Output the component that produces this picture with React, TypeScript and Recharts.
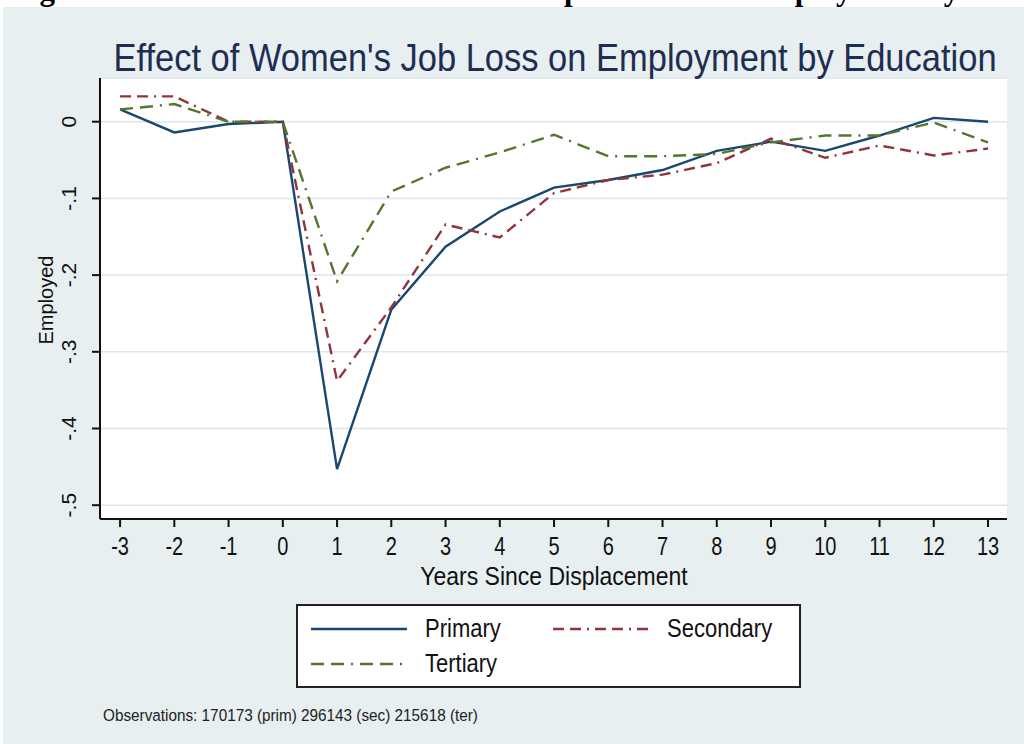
import React from 'react'
import { LineChart, Line, XAxis, YAxis, CartesianGrid } from 'recharts'

// Years relative to the displacement event
const years = [-3, -2, -1, 0, 1, 2, 3, 4, 5, 6, 7, 8, 9, 10, 11, 12, 13]

// Estimated employment effect by education group
const primary = [0.016, -0.014, -0.003, 0, -0.453, -0.245, -0.163, -0.117, -0.086, -0.076, -0.063, -0.038, -0.026, -0.038, -0.018, 0.005, 0.0]
const secondary = [0.033, 0.033, 0, 0, -0.338, -0.242, -0.134, -0.151, -0.093, -0.076, -0.069, -0.054, -0.022, -0.047, -0.031, -0.044, -0.035]
const tertiary = [0.016, 0.023, 0, 0, -0.208, -0.091, -0.06, -0.04, -0.017, -0.045, -0.045, -0.042, -0.027, -0.018, -0.018, -0.001, -0.027]

const yTicks = [0, -0.1, -0.2, -0.3, -0.4, -0.5]

const SERIES = [
  { key: 'primary', name: 'Primary', color: '#1a476f', dash: undefined as string | undefined },
  { key: 'secondary', name: 'Secondary', color: '#90353b', dash: '11 6 11 6 2 6' },
  { key: 'tertiary', name: 'Tertiary', color: '#55752f', dash: '13 7 13 7 2 7' },
]

const data = years.map((year, i) => ({
  year,
  primary: primary[i],
  secondary: secondary[i],
  tertiary: tertiary[i],
}))

const SANS = '"Liberation Sans", Arial, Helvetica, sans-serif'
const INK = '#111'

// Stata style tick text: "-.1" rather than "-0.1"
const fmtY = (v: number) => (v === 0 ? '0' : v.toFixed(1).replace('0.', '.'))

const XTick = ({ x, y, payload }: any) => (
  <g transform={`translate(${x},${y}) scale(1,1.25)`}>
    <text x={0} y={21} textAnchor="middle" fontSize={20} fill={INK} fontFamily={SANS}>
      {String(payload.value)}
    </text>
  </g>
)

const YTick = ({ x, y, payload }: any) => (
  <g transform={`translate(${x - 14},${y}) rotate(-90)`}>
    <text x={0} y={0} textAnchor="middle" fontSize={21} fill={INK} fontFamily={SANS}>
      {fmtY(payload.value)}
    </text>
  </g>
)

function LegendSample({ color, dash }: { color: string; dash?: string }) {
  return (
    <svg width={98} height={6} style={{ display: 'block' }}>
      <line x1={1} y1={3} x2={97} y2={3} stroke={color} strokeWidth={2.4} strokeDasharray={dash} />
    </svg>
  )
}

export default function App() {
  return (
    <div style={{ position: 'absolute', left: 0, top: 0, width: 1024, height: 744, background: '#fff', overflow: 'hidden' }}>
      <div style={{ position: 'absolute', left: 3, top: 7, right: 0, bottom: 0, background: '#e7eff1' }} />

      <div style={{ position: 'absolute', left: 0, top: 0 }}>
        <LineChart width={1024} height={600} data={data} margin={{ top: 78, right: 17, bottom: 21, left: 40 }}>
          <CartesianGrid vertical={false} stroke="#dce6ea" strokeWidth={1.5} fill="#ffffff" fillOpacity={1} />
          <XAxis
            dataKey="year"
            type="number"
            domain={[-3.37, 13.35]}
            ticks={years}
            allowDataOverflow
            height={60}
            tickSize={8}
            axisLine={{ stroke: INK, strokeWidth: 2 }}
            tickLine={{ stroke: INK, strokeWidth: 2 }}
            tick={<XTick />}
          />
          <YAxis
            type="number"
            domain={[-0.518, 0.057]}
            ticks={yTicks}
            allowDataOverflow
            width={60}
            tickSize={8}
            axisLine={{ stroke: INK, strokeWidth: 2 }}
            tickLine={{ stroke: INK, strokeWidth: 2 }}
            tick={<YTick />}
          />
          {SERIES.map(s => (
            <Line
              key={s.key}
              type="linear"
              dataKey={s.key}
              name={s.name}
              stroke={s.color}
              strokeWidth={2.4}
              strokeDasharray={s.dash}
              dot={false}
              isAnimationActive={false}
            />
          ))}
        </LineChart>
      </div>

      {/* titles, axis titles and note */}
      <svg width={1024} height={744} style={{ position: 'absolute', left: 0, top: 0, pointerEvents: 'none' }}>
        <text x={12} y={0} fontSize={31} fontWeight="bold" fontFamily='"Liberation Serif", "Times New Roman", serif' fill="#000">
          Figure 10: The Effect of Women's Job Displacement on Employment by Education
        </text>
        <g transform="translate(555,71) scale(1,1.15)">
          <text textAnchor="middle" fontSize={34.5} fill="#1f2d52" fontFamily={SANS}>
            Effect of Women's Job Loss on Employment by Education
          </text>
        </g>
        <g transform="translate(554,585) scale(1,1.15)">
          <text textAnchor="middle" fontSize={23} fill={INK} fontFamily={SANS}>
            Years Since Displacement
          </text>
        </g>
        <g transform="translate(53,300) rotate(-90)">
          <text textAnchor="middle" fontSize={20} fill={INK} fontFamily={SANS}>
            Employed
          </text>
        </g>
        <g transform="translate(103,721) scale(1,1.1)">
          <text x={0} y={0} fontSize={15.3} fill="#222" fontFamily={SANS}>
            Observations: 170173 (prim) 296143 (sec) 215618 (ter)
          </text>
        </g>
      </svg>

      <div
        style={{
          position: 'absolute',
          left: 296,
          top: 604,
          width: 501,
          height: 80,
          background: '#fff',
          border: '2px solid #222',
        }}
      >
        {SERIES.map((s, i) => (
          <div
            key={s.key}
            style={{
              position: 'absolute',
              left: i === 1 ? 254 : 12,
              top: i === 2 ? 44 : 9,
              display: 'flex',
              alignItems: 'center',
              gap: 17,
            }}
          >
            <LegendSample color={s.color} dash={s.dash} />
            <span style={{ fontFamily: SANS, fontSize: 22, color: INK, display: 'inline-block', transform: 'scaleY(1.2)', lineHeight: '28px' }}>
              {s.name}
            </span>
          </div>
        ))}
      </div>
    </div>
  )
}
